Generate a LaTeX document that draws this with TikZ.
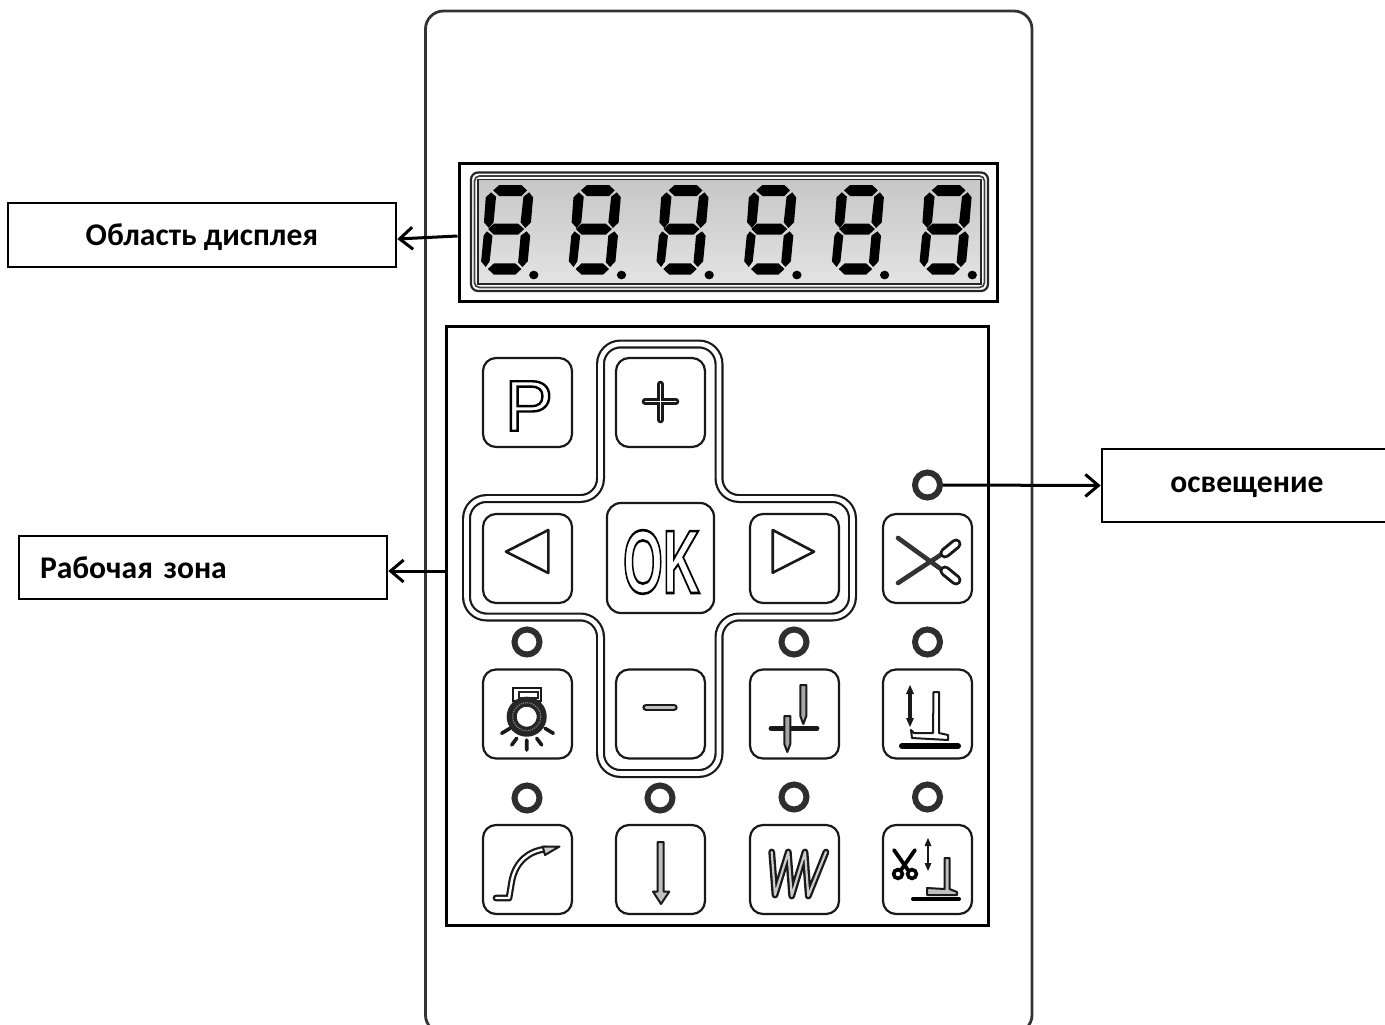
\documentclass[tikz,border=0pt]{standalone}
\usepackage{fontspec}
\setmainfont{Carlito}
\newfontfamily\keyfont{Liberation Sans}
\usetikzlibrary{arrows.meta,calc}
\newcommand{\outlinetext}[2]{\special{pdf:code 1 Tr #1 w}#2\special{pdf:code 0 Tr 1 w}}
\newcommand{\lowered}[2]{\raisebox{-#1}[0pt][0pt]{#2}}
\tikzset{
  blackbox/.style={draw=black,line width=3pt,fill=white,inner sep=0pt},
  labelbox/.style={draw=black,line width=2.6pt,fill=white,inner sep=0pt,font=\fontsize{31.6}{34}\selectfont\bfseries},
  pointer/.style={line width=3pt,-{Straight Barb[length=13pt,width=22pt,line width=3pt]}},
  keybox/.style={draw=black!90,line width=2.2pt,rounded corners=13pt,minimum width=89pt,minimum height=89pt,inner sep=0pt,fill=white},
  ledring/.style={circle,draw=black!82,line width=6pt,minimum size=25pt,inner sep=0pt,fill=white},
  dblline/.style={draw=black!90,line width=2.1pt,double=white,line cap=round,line join=round},
  iconline/.style={draw=black!90,line width=2.2pt,line join=round,line cap=round},
  greyfill/.style={draw=black!90,line width=2pt,fill=black!35,line join=round},
  seg/.style={fill=black,draw=none}
}
\newcommand{\lcdsegs}{%
  \fill[seg] (135,106)--(197,106)--(213,122)--(197,139)--(135,139)--(118,122)--cycle;
  \fill[seg] (112,128)--(126,141)--(119,218)--(106,235)--(92,218)--(97,143)--cycle;
  \fill[seg] (219,128)--(230,143)--(224,218)--(208,235)--(195,218)--(203,141)--cycle;
  \fill[seg] (120,222)--(188,222)--(205,238)--(188,255)--(120,255)--(104,238)--cycle;
  \fill[seg] (100,245)--(116,258)--(108,335)--(97,352)--(84,335)--(91,258)--cycle;
  \fill[seg] (212,245)--(222,258)--(215,335)--(200,352)--(188,338)--(195,258)--cycle;
  \fill[seg] (103,358)--(120,341)--(180,341)--(197,358)--(180,375)--(120,375)--cycle;
  \fill[seg] (232,376) circle[x radius=13,y radius=13];
}
\begin{document}
\begin{tikzpicture}[x=1pt,y=-1pt]
\useasboundingbox (0,0) rectangle (1385,1025);
\fill[white] (0,0) rectangle (1385,1025);
% housing
\draw[black!80,line width=2.8pt,rounded corners=18pt] (425.5,11) rectangle (1032,1033);
% display
\node[blackbox,minimum width=538pt,minimum height=138pt] (disp) at (728,232) {};
\draw[black!85,line width=2.2pt,rounded corners=7pt] (471,172.5) rectangle (988,291);
\draw[black!75,line width=1.7pt,rounded corners=5pt] (474.5,176) rectangle (984.5,287.5);
\shade[top color=black!22,bottom color=black!11,draw=black!85,line width=1.4pt] (478,179.5) rectangle (981,284);
\foreach \k in {0,...,5}{
  \begin{scope}[shift={({451.2+\k*87.7},149.7)},x=.356pt,y=-.3333pt]
    \lcdsegs
  \end{scope}
}
% work area
\node[blackbox,minimum width=542pt,minimum height=599pt] (work) at (717,625.5) {};
% cross
\draw[dblline,line width=2.2pt,double distance=4.6pt,rounded corners=20pt]
  (600.5,344) -- (719,344) -- (719,498.5) -- (852.5,498.5) -- (852.5,617) -- (719,617) -- (719,773.5) -- (600.5,773.5) -- (600.5,617) -- (466.5,617) -- (466.5,498.5) -- (600.5,498.5) -- cycle;
% keys
\node[keybox] (keyP) at (527.5,402.5) {};
\node[keybox] (keyPlus) at (660.5,402.5) {};
\node[keybox] (keyLeft) at (527.5,558.5) {};
\node[keybox,minimum width=107pt,minimum height=110pt,rounded corners=14pt] (keyOK) at (660.5,558) {};
\node[keybox] (keyRight) at (794.5,558.5) {};
\node[keybox] (keyCut) at (927.5,558.5) {};
\node[keybox] (keyLamp) at (527.5,714) {};
\node[keybox] (keyMinus) at (660.5,714) {};
\node[keybox] (keyNeedle) at (794.5,714) {};
\node[keybox] (keyFoot) at (927.5,714) {};
\node[keybox] (keyCurve) at (527.5,869.5) {};
\node[keybox] (keyDown) at (660.5,869.5) {};
\node[keybox] (keyZig) at (794.5,869.5) {};
\node[keybox] (keyTrim) at (927.5,869.5) {};
% LEDs
\node[ledring] (ledTop) at (927.5,485) {};
\node[ledring] (ledA) at (527,642) {};
\node[ledring] (ledB) at (794,642) {};
\node[ledring] (ledC) at (927.5,642) {};
\node[ledring] (ledD) at (527,798) {};
\node[ledring] (ledE) at (660,798) {};
\node[ledring] (ledF) at (794,797) {};
\node[ledring] (ledG) at (927.5,797) {};
% P and OK
\node[inner sep=0pt,font=\keyfont\fontsize{72}{72}\selectfont] (txtP) at (529,406) {\outlinetext{2.4}{P}};
\node[inner sep=0pt,font=\keyfont\bfseries\fontsize{90}{90}\selectfont,xscale=.57] (txtOK) at (661.5,562) {\outlinetext{2.6}{OK}};
% plus / minus
\draw[dblline,line width=2.8pt,double distance=1pt] (645,401.7) -- (676,401.7) (660.7,384) -- (660.7,420);
\draw[dblline,line width=2.2pt,double=black!25,double distance=3pt] (646,707.3) -- (674,707.3);
% triangles
\draw[iconline,line width=2.6pt] (506,551.7) -- (548.3,530) -- (548.3,573) -- cycle;
\draw[iconline,line width=2.6pt] (772.7,530) -- (772.7,572.7) -- (814,551.7) -- cycle;
% scissors top
\draw[black!80,line width=4.6pt,line cap=round] (898,538) -- (945,572) (898,583) -- (945,552);
\draw[dblline,line width=3pt,double distance=5pt] (945,571) -- (956,580);
\draw[dblline,line width=3pt,double distance=5pt] (945,553) -- (956,544);
% lamp
\draw[black!90,line width=2.6pt,fill=white] (513,688) rectangle (541,701);
\draw[black!90,line width=3.6pt] (515,700) -- (515,706) (539,700) -- (539,706);
\draw[black!85,line width=1.8pt] (519,692) rectangle (538,698);
\draw[black!85,line width=10pt] (526.7,716.7) circle[radius=15];
\draw[black!50,line width=1.2pt,densely dotted] (526.7,716.7) circle[radius=14];
\draw[black!90,line width=3.6pt,line cap=round] (501.7,733.3) -- (510,728.3) (511.7,745) -- (516.7,738.3) (526.7,750) -- (526.7,740) (541.7,745) -- (536.7,738.3) (553.3,733.3) -- (545,728.3);
% needles
\draw[black!90,line width=4.8pt,line cap=round] (771,728.3) -- (817,728.3);
\draw[greyfill] (800.3,685) -- (806.3,685) -- (806.3,716) -- (803.3,724) -- (800.3,716) -- cycle;
\draw[greyfill] (784.3,716) -- (790.3,716) -- (790.3,744) -- (787.3,752) -- (784.3,744) -- cycle;
% foot
\draw[black!90,line width=3.4pt] (910,690) -- (910,723);
\fill[black!90] (910,685) -- (914,694) -- (906,694) -- cycle (910,727) -- (914,718) -- (906,718) -- cycle;
\draw[iconline,line width=2pt,fill=white] (933.5,692) -- (933,733) -- (914,733) -- (911,730) -- (912,738) -- (948,740) -- (948,735) -- (939,733) -- (939,692) -- cycle;
\draw[black,line width=6pt,line cap=round] (902,746) -- (958,746);
% curve
\draw[dblline,line width=2.2pt,double distance=2.4pt] (496,898) -- (509,898) -- (512,880) .. controls (516,862) and (528,851) .. (546,849);
\draw[greyfill,fill=black!20] (542.7,846.5) -- (559.5,846.5) -- (545,855) -- cycle;
% down arrow
\draw[greyfill,fill=black!25] (657.7,842) -- (663.7,842) -- (663.7,891.5) -- (669.3,891.5) -- (661,904) -- (653,891.5) -- (657.7,891.5) -- cycle;
% zigzag
\draw[dblline,line width=2.3pt,double=black!20,double distance=2.2pt] (771.7,852) -- (775,895) -- (788.3,852) -- (791.7,896) -- (805,852) -- (808.3,896) -- (826,852);
% trim icon
\draw[black,line width=3.8pt,line cap=round] (894,850) -- (908,870) (915,850) -- (901,870);
\draw[black,line width=3.6pt,fill=white] (898,874) circle[radius=4.4] (912,874) circle[radius=4.4];
\draw[black!90,line width=2.8pt] (928,842) -- (928,868);
\fill[black!90] (928,838) -- (931.5,846) -- (924.5,846) -- cycle (928,871) -- (931.5,863) -- (924.5,863) -- cycle;
\draw[iconline,line width=2pt,fill=black!25] (944.5,858) -- (949.5,858) -- (949.5,889) -- (957,892) -- (957,895) -- (927,895) -- (927,888) -- (944.5,889) -- cycle;
\draw[black,line width=4pt,line cap=round] (913,899) -- (959,899);
% label boxes
\node[labelbox,minimum width=388pt,minimum height=64pt] (lblDisp) at (202,235) {\lowered{10pt}{Область дисплея}};
\node[labelbox,minimum width=368pt,minimum height=63pt,text width=326pt,align=left] (lblWork) at (203,567.5) {\lowered{11pt}{Рабочая зона}};
\node[labelbox,minimum width=290pt,minimum height=73pt] (lblLight) at (1247,485.5) {\lowered{7pt}{освещение}};
% connectors
\draw[pointer] ([yshift=-4pt]disp.west) -- ([yshift=-4pt]lblDisp.east);
\draw[pointer] ([yshift=54.5pt]work.west) -- ([yshift=-3.5pt]lblWork.east);
\draw[pointer] (ledTop.east) -- (lblLight.west);
\end{tikzpicture}
\end{document}
